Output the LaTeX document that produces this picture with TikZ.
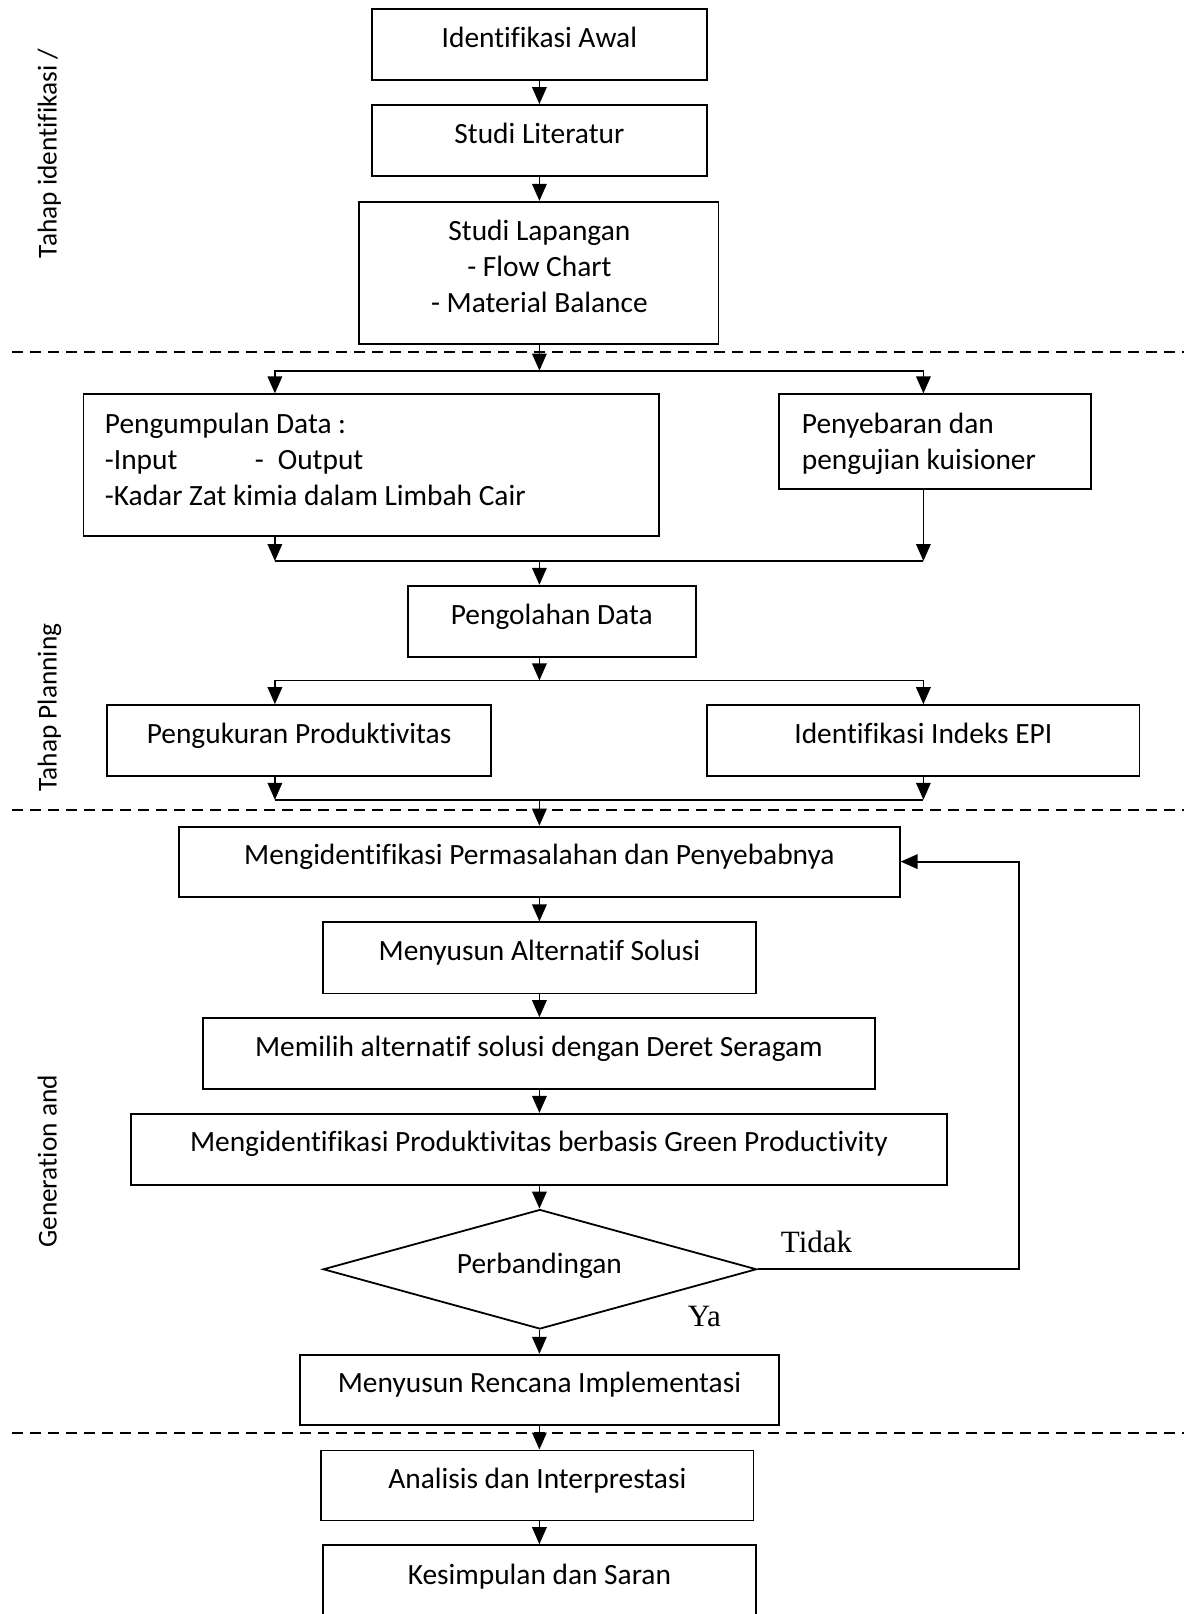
\documentclass[tikz,border=0pt]{standalone}
\usepackage{fontspec}
\setmainfont{Carlito}[Ligatures={NoCommon,NoContextual}]
\newfontfamily\serifyn{Liberation Serif}
\usetikzlibrary{arrows.meta,shapes.geometric}
\begin{document}
\begin{tikzpicture}[x=1pt,y=-1pt,
  line width=1.8pt,
  box/.style={draw, rectangle, line width=1.8pt, inner sep=0pt},
  decision/.style={draw, diamond, line width=1.8pt, inner sep=0pt},
  arr/.style={-{Triangle[length=17pt,width=14.5pt]}},
  sepline/.style={dash pattern=on 11pt off 7pt, line width=1.8pt},
  txt/.style={inner sep=0pt, anchor=base, font=\fontsize{29.4}{36}\selectfont},
  side/.style={inner sep=0pt, anchor=base, rotate=90, font=\fontsize{27.3}{30}\selectfont},
  yn/.style={inner sep=0pt, anchor=base west, font=\serifyn\fontsize{31}{36}\selectfont},
]
\useasboundingbox (0,0) rectangle (1189,1614);

% side labels
\node[side] (s1) at (56.7,153.5) {Tahap identifikasi /};
\node[side] (s2) at (56.7,707.5) {Tahap Planning};
\node[side] (s3) at (56.7,1161.5) {Generation and};

% separators
\coordinate (sa1) at (12,352);   \coordinate (sa2) at (1184,352);
\coordinate (sb1) at (12,810.1); \coordinate (sb2) at (1184,810.1);
\coordinate (sc1) at (12,1433);  \coordinate (sc2) at (1184,1433);
\draw[sepline] (sa1) -- (sa2);
\draw[sepline] (sb1) -- (sb2);
\draw[sepline] (sc1) -- (sc2);

% boxes
\node[box, minimum width=335.6pt, minimum height=71pt]   (b1)  at (539.4,44.8) {};
\node[box, minimum width=335.6pt, minimum height=71pt]   (b2)  at (539.4,140.5) {};
\node[box, minimum width=359.2pt, minimum height=142pt]  (b3)  at (538.9,272.8) {};
\node[box, minimum width=575.4pt, minimum height=142pt]  (b4)  at (371.1,465.3) {};
\node[box, minimum width=311.9pt, minimum height=94.7pt] (b5)  at (935.25,441.65) {};
\node[box, minimum width=288.3pt, minimum height=71.1pt] (b6)  at (551.75,621.25) {};
\node[box, minimum width=383.9pt, minimum height=71.1pt] (b7)  at (299.05,740.65) {};
\node[box, minimum width=432.3pt, minimum height=71.1pt] (b8)  at (923.35,740.65) {};
\node[box, minimum width=720.6pt, minimum height=70pt]   (b9)  at (539.4,861.6) {};
\node[box, minimum width=432.4pt, minimum height=71.1pt] (b10) at (539.4,957.85) {};
\node[box, minimum width=672.2pt, minimum height=71pt]   (b11) at (538.9,1053.6) {};
\node[box, minimum width=816.3pt, minimum height=71pt]   (b12) at (538.85,1149.3) {};
\node[decision, minimum width=433.4pt, minimum height=119.5pt] (d) at (539.9,1269.25) {};
\node[box, minimum width=479.7pt, minimum height=70pt]   (b13) at (539.45,1389.7) {};
\node[box, minimum width=432.3pt, minimum height=70pt]   (b14) at (537.35,1485.4) {};
\node[box, minimum width=432.4pt, minimum height=80pt]   (b15) at (539.4,1585.1) {};

% texts
\node[txt] (t1) at ([yshift=-39pt]b1.north) {Identifikasi Awal};
\node[txt] (t2) at ([yshift=-39pt]b2.north) {Studi Literatur};
\node[txt] (t3) at (539.4,240.6) {\begin{tabular}[t]{@{}c@{}}Studi Lapangan\\- Flow Chart\\- Material Balance\end{tabular}};
\node[txt, anchor=base west] (t4) at (104,433) {\begin{tabular}[t]{@{}l@{}}Pengumpulan Data :\\\makebox[150pt][l]{-Input}\makebox[23pt][l]{-}Output\\-Kadar Zat kimia dalam Limbah Cair\end{tabular}};
\node[txt, anchor=base west] (t5) at (801,433) {\begin{tabular}[t]{@{}l@{}}Penyebaran dan\\pengujian kuisioner\end{tabular}};
\node[txt] (t6) at ([yshift=-39.5pt]b6.north) {Pengolahan Data};
\node[txt] (t7) at ([yshift=-39pt]b7.north) {Pengukuran Produktivitas};
\node[txt] (t8) at ([yshift=-39pt]b8.north) {Identifikasi Indeks EPI};
\node[txt] (t9) at ([yshift=-39pt]b9.north) {Mengidentifikasi Permasalahan dan Penyebabnya};
\node[txt] (t10) at ([yshift=-39pt]b10.north) {Menyusun Alternatif Solusi};
\node[txt] (t11) at ([yshift=-39pt]b11.north) {Memilih alternatif solusi dengan Deret Seragam};
\node[txt] (t12) at ([yshift=-39pt]b12.north) {Mengidentifikasi Produktivitas berbasis Green Productivity};
\node[txt] (td) at (539.4,1273) {Perbandingan};
\node[txt] (t13) at ([yshift=-39pt]b13.north) {Menyusun Rencana Implementasi};
\node[txt] (t14) at ([yshift=-39pt]b14.north) {Analisis dan Interprestasi};
\node[txt] (t15) at ([yshift=-40pt]b15.north) {Kesimpulan dan Saran};
\node[yn] (tidak) at (780,1252.7) {Tidak};
\node[yn] (ya) at (687,1326.7) {Ya};

% junctions
\coordinate (j1) at (539.4,370.6);  \coordinate (j1l) at (274.9,370.6);  \coordinate (j1r) at (923.4,370.6);
\coordinate (j2) at (539.4,561);    \coordinate (j2l) at (274.9,561);    \coordinate (j2r) at (923.4,561);
\coordinate (j3) at (539.4,680.4);  \coordinate (j3l) at (274.9,680.4);  \coordinate (j3r) at (923.4,680.4);
\coordinate (j4) at (539.4,799.8);  \coordinate (j4l) at (274.9,799.8);  \coordinate (j4r) at (923.4,799.8);
\coordinate (loop) at (1019.1,1269.25);

% connectors
\draw[arr] (b1.south) -- (b2.north);
\draw[arr] (b2.south) -- (b2.south |- b3.north);
\draw[arr] (j1 |- b3.south) -- (j1);
\draw[arr] (j1) -| (j1l |- b4.north);
\draw[arr] (j1) -| (j1r |- b5.north);
\draw[arr] (j2l |- b4.south) -- (j2l);
\draw[arr] (j2r |- b5.south) -- (j2r);
\draw (j2l) -- (j2r);
\draw[arr] (j2) -- (j2 |- b6.north);
\draw[arr] (j3 |- b6.south) -- (j3);
\draw[arr] (j3) -| (j3l |- b7.north);
\draw[arr] (j3) -| (j3r |- b8.north);
\draw[arr] (j4l |- b7.south) -- (j4l);
\draw[arr] (j4r |- b8.south) -- (j4r);
\draw (j4l) -- (j4r);
\draw[arr] (j4) -- (j4 |- b9.north);
\draw[arr] (b9.south) -- (b9.south |- b10.north);
\draw[arr] (b10.south) -- (b10.south |- b11.north);
\draw[arr] (b10.south |- b11.south) -- (b10.south |- b12.north);
\draw[arr] (b10.south |- b12.south) -- (b10.south |- d.north);
\draw[arr] (d.east) -- (loop) |- (b9.east);
\draw[arr] (b10.south |- d.south) -- (b10.south |- b13.north);
\draw[arr] (b10.south |- b13.south) -- (b10.south |- b14.north);
\draw[arr] (b10.south |- b14.south) -- (b10.south |- b15.north);
\end{tikzpicture}
\end{document}
